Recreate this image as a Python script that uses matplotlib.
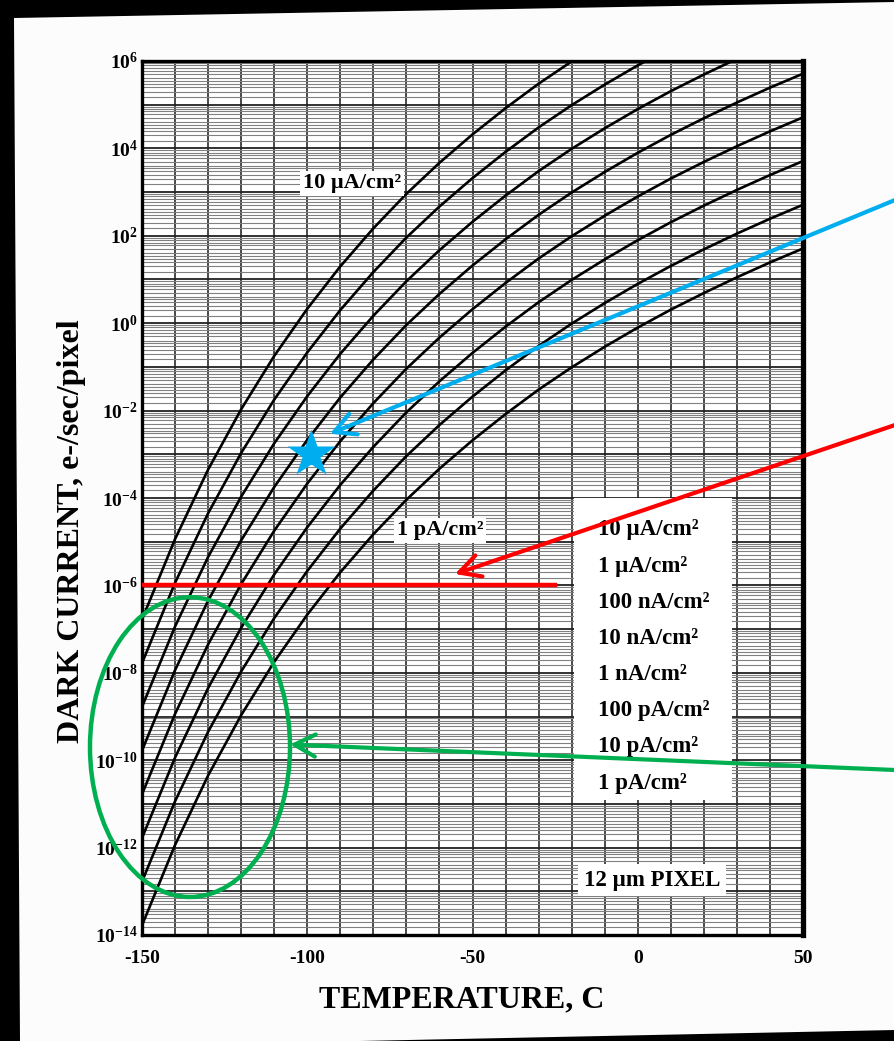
import numpy as np
import matplotlib.pyplot as plt
from matplotlib.patches import Ellipse, Polygon, Rectangle
from matplotlib.ticker import LogLocator, NullFormatter

# Dark current vs temperature, 12 um pixel
temps = [-150, -140, -130, -120, -110, -100, -90, -80, -70, -60, -50,
         -40, -30, -20, -10, 0, 10, 20, 30, 40, 50]

# log10 of dark current, e-/sec/pixel, one list per current density
d_1pA = [-13.78, -11.94, -10.35, -8.97, -7.75, -6.67, -5.70, -4.83, -4.04, -3.33, -2.68,
         -2.08, -1.52, -1.01, -0.54, -0.10, 0.31, 0.69, 1.05, 1.39, 1.71]
d_10pA = [-12.78, -10.94, -9.35, -7.97, -6.75, -5.67, -4.70, -3.83, -3.04, -2.33, -1.68,
          -1.08, -0.52, -0.01, 0.46, 0.90, 1.31, 1.69, 2.05, 2.39, 2.71]
d_100pA = [-11.78, -9.94, -8.35, -6.97, -5.75, -4.67, -3.70, -2.83, -2.04, -1.33, -0.68,
           -0.08, 0.48, 0.99, 1.46, 1.90, 2.31, 2.69, 3.05, 3.39, 3.71]
d_1nA = [-10.78, -8.94, -7.35, -5.97, -4.75, -3.67, -2.70, -1.83, -1.04, -0.33, 0.32,
         0.92, 1.48, 1.99, 2.46, 2.90, 3.31, 3.69, 4.05, 4.39, 4.71]
d_10nA = [-9.78, -7.94, -6.35, -4.97, -3.75, -2.67, -1.70, -0.83, -0.04, 0.67, 1.32,
          1.92, 2.48, 2.99, 3.46, 3.90, 4.31, 4.69, 5.05, 5.39, 5.71]
d_100nA = [-8.78, -6.94, -5.35, -3.97, -2.75, -1.67, -0.70, 0.17, 0.96, 1.67, 2.32,
           2.92, 3.48, 3.99, 4.46, 4.90, 5.31, 5.69, 6.05, 6.39, 6.71]
d_1uA = [-7.78, -5.94, -4.35, -2.97, -1.75, -0.67, 0.30, 1.17, 1.96, 2.67, 3.32,
         3.92, 4.48, 4.99, 5.46, 5.90, 6.31, 6.69, 7.05, 7.39, 7.71]
d_10uA = [-6.78, -4.94, -3.35, -1.97, -0.75, 0.33, 1.30, 2.17, 2.96, 3.67, 4.32,
          4.92, 5.48, 5.99, 6.46, 6.90, 7.31, 7.69, 8.05, 8.39, 8.71]

legend_labels = ['10 µA/cm²', '1 µA/cm²', '100 nA/cm²', '10 nA/cm²',
                 '1 nA/cm²', '100 pA/cm²', '10 pA/cm²', '1 pA/cm²']

# overlay marks
red_T = [-150, -25]
red_level = 1e-6
star_T, star_D = -99, 1e-3

plt.rcParams['font.family'] = ['Liberation Serif', 'DejaVu Serif']
plt.rcParams['font.weight'] = 'bold'
plt.rcParams['axes.unicode_minus'] = False
plt.rcParams['mathtext.fontset'] = 'custom'
plt.rcParams['mathtext.rm'] = 'Liberation Serif:bold'
plt.rcParams['mathtext.it'] = 'Liberation Serif:bold'
plt.rcParams['mathtext.bf'] = 'Liberation Serif:bold'

W, H = 895, 1041
fig = plt.figure(figsize=(W / 100, H / 100), dpi=100, facecolor='black')

# white scanned page on black background
page = [(14, 18), (895, 2), (895, 1030), (360, 1041), (20, 1041)]
fig.add_artist(Polygon([(x / W, 1 - y / H) for x, y in page], closed=True,
                       transform=fig.transFigure, facecolor='#fcfcfc',
                       edgecolor='none', zorder=0))

ax = fig.add_axes([142 / W, 1 - 935 / H, (803 - 142) / W, (935 - 61) / H])
ax.set_yscale('log')
ax.set_xlim(-150, 50)
ax.set_ylim(1e-14, 1e6)

for vals in [d_10uA, d_1uA, d_100nA, d_10nA, d_1nA, d_100pA, d_10pA, d_1pA]:
    ax.plot(temps, 10.0 ** np.array(vals), color='black', lw=1.9, zorder=4)

# grid like log graph paper
ax.set_xticks([-150, -100, -50, 0, 50])
ax.set_xticks(np.arange(-150, 51, 10), minor=True)
exps = np.arange(-14, 7)
ax.set_yticks(10.0 ** exps)
ax.set_yticklabels(['$10^{%d}$' % e if e % 2 == 0 else '' for e in exps])
ax.yaxis.set_minor_locator(LogLocator(base=10, subs=[1.5, 2, 2.5, 3, 3.5, 4, 5, 6, 7, 8, 9],
                                      numticks=400))
ax.yaxis.set_minor_formatter(NullFormatter())
ax.grid(which='both', axis='x', color='#2a2a2a', lw=1.2)
ax.grid(which='major', axis='y', color='#222222', lw=1.3)
ax.grid(which='minor', axis='y', color='#808080', lw=0.8)
ax.set_axisbelow(True)
ax.tick_params(which='both', length=0)
ax.tick_params(axis='x', labelsize=14, pad=11)
ax.tick_params(axis='y', labelsize=14, pad=3)
for s in ax.spines.values():
    s.set_linewidth(2.4)
ax.spines['right'].set_linewidth(3.8)

fig.text(462 / W, 1 - 1000 / H, 'TEMPERATURE, C', ha='center', va='center', fontsize=23)
fig.text(72 / W, 1 - 531 / H, 'DARK CURRENT, e-/sec/pixel', ha='center', va='center',
         fontsize=23, rotation=90)

box = dict(facecolor='white', edgecolor='none', pad=2)
ax.text(0.318, 0.860, '10 µA/cm²', transform=ax.transAxes, ha='center', va='center',
        fontsize=16, bbox=box, zorder=5)
ax.text(0.451, 0.463, '1 pA/cm²', transform=ax.transAxes, ha='center', va='center',
        fontsize=16, bbox=box, zorder=5)
ax.add_patch(Rectangle((0.654, 0.1545), 0.239, 0.3455, transform=ax.transAxes,
                       facecolor='white', edgecolor='none', zorder=3))
for i, lab in enumerate(legend_labels):
    ax.text(0.69, 0.4634 - i * 0.04136, lab, transform=ax.transAxes, ha='left',
            va='center', fontsize=16.5, zorder=5)
ax.text(0.7716, 0.0629, '12 µm PIXEL', transform=ax.transAxes, ha='center', va='center',
        fontsize=16.5, bbox=dict(facecolor='white', edgecolor='none', pad=4), zorder=5)

# colored overlays
ax.plot(red_T, [red_level, red_level], color='#ff0000', lw=3.2, zorder=6)
ax.plot(star_T, star_D, marker='*', ms=36, color='#00aeef', mec='none', zorder=7)
ax.add_patch(Ellipse((0.0726, 0.215), 0.3026, 0.343, transform=ax.transAxes, fill=False,
                     edgecolor='#00b050', lw=3.2, clip_on=False, zorder=6))

arrows = [((-93.1, 10 ** -2.53), (1.0, 1 - 200 / H), '#00aeef'),
          ((-55.3, 10 ** -5.74), (1.0, 1 - 425 / H), '#ff0000'),
          ((-105.2, 10 ** -9.64), (1.0, 1 - 770 / H), '#00b050')]
for tip, tail, col in arrows:
    ax.annotate('', xy=tip, xycoords='data', xytext=tail, textcoords='figure fraction',
                arrowprops=dict(arrowstyle='->,head_length=0.75,head_width=0.4',
                                mutation_scale=20, color=col, lw=3.0,
                                shrinkA=0, shrinkB=0),
                annotation_clip=False, zorder=7)

fig.savefig('out.png', dpi=100, facecolor='black')
